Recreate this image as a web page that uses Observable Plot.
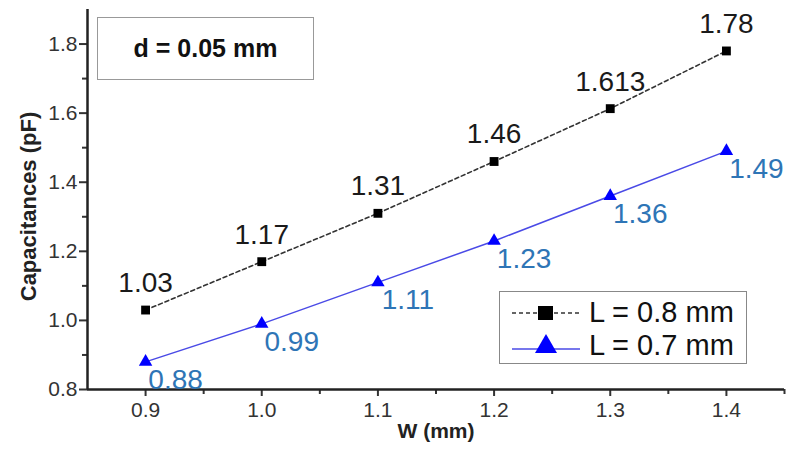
<!DOCTYPE html>
<html>
<head>
<meta charset="utf-8">
<script src="https://cdn.jsdelivr.net/npm/d3@7"></script>
<script src="https://cdn.jsdelivr.net/npm/@observablehq/plot@0.6"></script>
<style>
  html, body { margin: 0; padding: 0; background: #fff; }
  #wrap { position: relative; width: 786px; height: 457px; font-family: "Liberation Sans", Arial, sans-serif; }
  #title { position: absolute; left: 97px; top: 17px; width: 215px; height: 61px; border: 1.5px solid #999;
           display: flex; align-items: center; justify-content: center; font-weight: bold; font-size: 25px; color: #111; background: #fff; }
  #legend { position: absolute; left: 499px; top: 291px; width: 246px; height: 71px; border: 1.5px solid #888; background: #fff; }
  .row { position: absolute; left: 12px; display: flex; align-items: center; font-size: 29px; color: #111; }
  .row svg { margin-right: 9px; }
</style>
</head>
<body>
<div id="wrap">
  <div id="chart"></div>
  <div id="title">d = 0.05 mm</div>
  <div id="legend"></div>
</div>
<script>
const W = [0.9, 1.0, 1.1, 1.2, 1.3, 1.4];
const capL08 = [1.03, 1.17, 1.31, 1.46, 1.613, 1.78];
const capL07 = [0.88, 0.99, 1.11, 1.23, 1.36, 1.49];
const seriesNames = ["L = 0.8 mm", "L = 0.7 mm"];
const xTicks = [0.9, 1.0, 1.1, 1.2, 1.3, 1.4];
const xMinor = [0.95, 1.05, 1.15, 1.25, 1.35, 1.45];
const yTicks = [0.8, 1.0, 1.2, 1.4, 1.6, 1.8];
const yMinor = [0.9, 1.1, 1.3, 1.5, 1.7];

const d08 = W.map((w, i) => ({w, c: capL08[i]}));
const d07 = W.map((w, i) => ({w, c: capL07[i]}));

const chart = Plot.plot({
  width: 786,
  height: 457,
  marginLeft: 87,
  marginRight: 2,
  marginTop: 9,
  marginBottom: 68,
  style: {fontFamily: "'Liberation Sans', Arial, sans-serif", fontSize: "20px", color: "#333", background: "#fff"},
  x: {domain: [0.85, 1.45]},
  y: {domain: [0.8, 1.9]},
  marks: [
    Plot.axisX(xMinor, {tickSize: 5, tickFormat: () => "", label: null, strokeWidth: 2}),
    Plot.axisX(xTicks, {tickSize: 7, tickPadding: 6, tickFormat: d3.format(".1f"), label: null, strokeWidth: 2, fontSize: 21}),
    Plot.axisY(yMinor, {tickSize: 5, tickFormat: () => "", label: null, strokeWidth: 2}),
    Plot.axisY(yTicks, {tickSize: 8, tickPadding: 2, tickFormat: d3.format(".1f"), label: null, strokeWidth: 2, fontSize: 21}),
    Plot.ruleX([0.85], {stroke: "#222", strokeWidth: 2.5}),
    Plot.ruleY([0.8], {stroke: "#222", strokeWidth: 2.5}),
    Plot.text(["W (mm)"], {frameAnchor: "bottom", textAnchor: "middle", dy: 48, fontWeight: "bold", fontSize: 21, fill: "#222"}),
    Plot.text(["Capacitances (pF)"], {frameAnchor: "left", textAnchor: "middle", dx: -59, dy: 7, rotate: -90, fontWeight: "bold", fontSize: 22, fill: "#222"}),
    Plot.line(d08, {x: "w", y: "c", stroke: "#333", strokeWidth: 1.6, strokeDasharray: "4,3"}),
    Plot.line(d07, {x: "w", y: "c", stroke: "#4a4ae6", strokeWidth: 1.5}),
    Plot.dot(d08, {x: "w", y: "c", symbol: "square", r: 5, fill: "#000", stroke: "none"}),
    Plot.dot(d07, {x: "w", y: "c", symbol: "triangle", r: 5, fill: "#0000ff", stroke: "none"}),
    Plot.text(d08, {x: "w", y: "c", text: d => String(d.c), dy: -27, fontSize: 28, fill: "#1a1a1a"}),
    Plot.text(d07, {x: "w", y: "c", text: d => String(d.c), dx: 30, dy: 18, fontSize: 28, fill: "#2e75b6"})
  ]
});
document.getElementById("chart").appendChild(chart);

// legend
const legend = document.getElementById("legend");
const samples = [
  '<svg width="68" height="30"><line x1="0" y1="15" x2="68" y2="15" stroke="#333" stroke-width="1.5" stroke-dasharray="4,3"/><rect x="26" y="8" width="15" height="14" fill="#000"/></svg>',
  '<svg width="68" height="30"><line x1="0" y1="18" x2="68" y2="18" stroke="#4a4ae6" stroke-width="1.5"/><polygon points="34,3 45,22 23,22" fill="#0000ff"/></svg>'
];
seriesNames.forEach((name, i) => {
  const row = document.createElement("div");
  row.className = "row";
  row.style.top = (i === 0 ? 4 : 37) + "px";
  row.innerHTML = samples[i] + "<span>" + name + "</span>";
  legend.appendChild(row);
});
</script>
</body>
</html>
